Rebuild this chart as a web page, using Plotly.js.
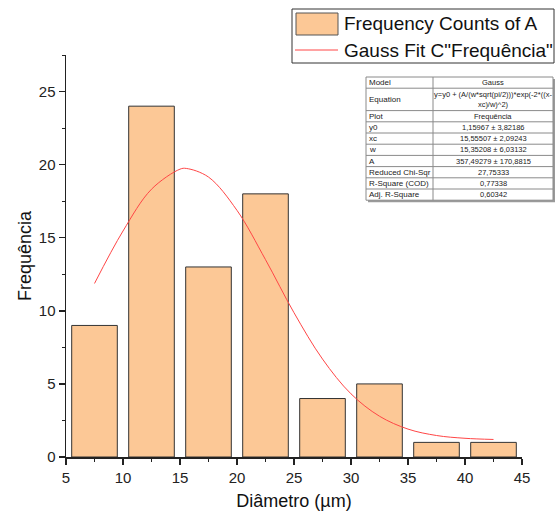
<!DOCTYPE html>
<html><head><meta charset="utf-8">
<script src="https://cdn.plot.ly/plotly-3.0.1.min.js"></script>
<style>body{margin:0;background:#fff}#c{width:555px;height:522px}</style>
</head><body><div id="c"></div>
<script>
// Histogram bins (centers) and counts
const binCenters = [7.5, 12.5, 17.5, 22.5, 27.5, 32.5, 37.5, 42.5];
const counts = [9, 24, 13, 18, 4, 5, 1, 1];
const fitX = [7.5, 10, 12.5, 15, 15.555, 17.5, 20, 22.5, 25, 27.5, 30, 32.5, 35, 37.5, 40, 42.5];
const fitY = [11.87, 15.46, 18.32, 19.69, 19.74, 19.15, 16.87, 13.50, 9.87, 6.70, 4.32, 2.79, 1.91, 1.47, 1.28, 1.20];
// Series names
const seriesNames = ['Frequency Counts of A', 'Gauss Fit C"Frequência"'];
// Fit table
const tableLabels = ["Model", "Equation", "Plot", "y0", "xc", "w", "A", "Reduced Chi-Sqr", "R-Square (COD)", "Adj. R-Square"];
const tableValues = ["Gauss", "y=y0 + (A/(w*sqrt(pi/2)))*exp(-2*((x-<br>xc)/w)^2)", "Frequência", "1,15967 ± 3,82186", "15,55507 ± 2,09243", "15,35208 ± 6,03132", "357,49279 ± 170,8815", "27,75333", "0,77338", "0,60342"];
const rowUnits = [1, 2, 1, 1, 1, 1, 1, 1, 1, 1];

const L = 66, R = 33, T = 55, B = 65, W = 555, H = 522;
const pw = W - L - R, ph = H - T - B;
const px = x => (x - L) / pw;
const py = y => (H - B - y) / ph;
const FONT = 'Liberation Sans, Arial';
const barColor = 'rgb(252,200,150)', lineColor = 'rgb(255,70,70)';

const shapes = [], annotations = [];
// legend box
shapes.push({type: 'rect', xref: 'paper', yref: 'paper', x0: px(292), x1: px(554), y0: py(9), y1: py(63), fillcolor: '#fff', line: {color: '#333', width: 1}, layer: 'above'});
shapes.push({type: 'rect', xref: 'paper', yref: 'paper', x0: px(296), x1: px(338), y0: py(13), y1: py(35), fillcolor: barColor, line: {color: '#555', width: 1}, layer: 'above'});
shapes.push({type: 'line', xref: 'paper', yref: 'paper', x0: px(295), x1: px(338), y0: py(50), y1: py(50), line: {color: lineColor, width: 1}, layer: 'above'});
annotations.push({xref: 'paper', yref: 'paper', x: px(342), y: py(24), text: seriesNames[0], showarrow: false, xanchor: 'left', yanchor: 'middle', font: {family: FONT, size: 19, color: '#111'}});
annotations.push({xref: 'paper', yref: 'paper', x: px(342), y: py(50), text: seriesNames[1], showarrow: false, xanchor: 'left', yanchor: 'middle', font: {family: FONT, size: 19, color: '#111'}});

// table geometry in pixels
const tx0 = 366, tx1 = 553, tcol = 433, ty0 = 77, unit = 11.2;
const totalUnits = rowUnits.reduce((a, b) => a + b, 0);
const ty1 = ty0 + unit * totalUnits;
shapes.push({type: 'rect', xref: 'paper', yref: 'paper', x0: px(tx0 + 2), x1: px(tx1 + 2), y0: py(ty0 + 2), y1: py(ty1 + 2), fillcolor: '#9a9a9a', line: {width: 0}, layer: 'above'});
shapes.push({type: 'rect', xref: 'paper', yref: 'paper', x0: px(tx0), x1: px(tx1), y0: py(ty0), y1: py(ty1), fillcolor: '#ffffff', line: {color: '#8a8a8a', width: 1}, layer: 'above'});
shapes.push({type: 'line', xref: 'paper', yref: 'paper', x0: px(tcol), x1: px(tcol), y0: py(ty0), y1: py(ty1), line: {color: '#8a8a8a', width: 1}, layer: 'above'});
let yc = ty0;
for (let i = 0; i < tableLabels.length; i++) {
  const h = unit * rowUnits[i];
  const mid = yc + h / 2;
  annotations.push({xref: 'paper', yref: 'paper', x: px(tx0 + 1), y: py(mid), text: tableLabels[i], showarrow: false, xanchor: 'left', yanchor: 'middle', font: {family: FONT, size: 8, color: '#222'}});
  annotations.push({xref: 'paper', yref: 'paper', x: px((tcol + tx1) / 2), y: py(mid), text: tableValues[i], showarrow: false, xanchor: 'center', yanchor: 'middle', align: 'center', font: {family: FONT, size: 7.5, color: '#222'}});
  yc += h;
  if (i < tableLabels.length - 1) {
    shapes.push({type: 'line', xref: 'paper', yref: 'paper', x0: px(tx0), x1: px(tx1), y0: py(yc), y1: py(yc), line: {color: '#8a8a8a', width: 1}, layer: 'above'});
  }
}

const data = [
  {type: 'bar', x: binCenters, y: counts, width: 4, name: seriesNames[0],
   marker: {color: barColor, line: {color: '#333', width: 1}}},
  {type: 'scatter', mode: 'lines', x: fitX, y: fitY, name: seriesNames[1],
   line: {color: lineColor, width: 1, shape: 'spline'}}
];
const axisFont = {family: FONT, size: 15, color: '#222'};
const layout = {
  width: W, height: H, margin: {l: L, r: R, t: T, b: B},
  paper_bgcolor: '#fff', plot_bgcolor: '#fff',
  showlegend: false,
  xaxis: {range: [5, 45], dtick: 5, tick0: 5, showgrid: false, zeroline: false, showline: true, linecolor: '#222', linewidth: 1.5,
          ticks: 'outside', ticklen: 6, tickwidth: 1.5, tickcolor: '#222', tickfont: axisFont, automargin: false,
          minor: {dtick: 2.5, ticklen: 3, tickwidth: 1, tickcolor: '#222', ticks: 'outside'},
          title: {text: 'Diâmetro (µm)', font: {family: FONT, size: 18, color: '#111'}, standoff: 10}},
  yaxis: {range: [0, 27.5], dtick: 5, showgrid: false, zeroline: false, showline: true, linecolor: '#222', linewidth: 1.5,
          ticks: 'outside', ticklen: 6, tickwidth: 1.5, tickcolor: '#222', tickfont: axisFont, automargin: false,
          minor: {dtick: 2.5, ticklen: 3, tickwidth: 1, tickcolor: '#222', ticks: 'outside'},
          title: {text: 'Frequência', font: {family: FONT, size: 18, color: '#111'}, standoff: 2}},
  shapes: shapes, annotations: annotations
};
Plotly.newPlot('c', data, layout, {displayModeBar: false, staticPlot: true});
</script></body></html>
